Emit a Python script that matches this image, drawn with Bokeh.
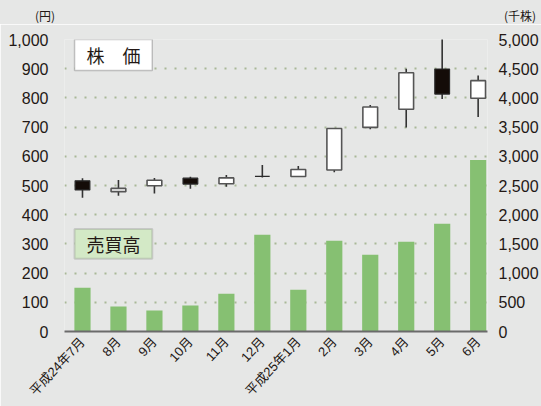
from bokeh.plotting import figure
from bokeh.layouts import column
from bokeh.models import (Range1d, LinearAxis, FixedTicker, BoxAnnotation, Label, Div,
                          ColumnDataSource, NumeralTickFormatter)
from bokeh.embed import file_html
from bokeh.resources import INLINE

# ---- data ----
months = ["平成24年7月", "8月", "9月", "10月", "11月", "12月",
          "平成25年1月", "2月", "3月", "4月", "5月", "6月"]
price_open = [516, 479, 499, 525, 506, 531, 531, 553, 699, 761, 899, 799]
price_close = [485, 490, 518, 505, 526, 531, 555, 695, 769, 886, 813, 859]
price_high = [525, 519, 526, 530, 536, 570, 567, 695, 776, 900, 1002, 877]
price_low = [458, 465, 473, 489, 496, 527, 531, 545, 693, 699, 796, 735]
volume = [750, 427, 358, 444, 648, 1655, 717, 1553, 1314, 1536, 1843, 2935]
price_ticks = list(range(0, 1001, 100))
volume_ticks = list(range(0, 5001, 500))
price_unit = "(円)"
volume_unit = "(千株)"

# ---- styles ----
BG = "#e6e7e6"
INK = "#231815"
BAR = "#86c072"
GRID = "#a9b897"
NUM_FONT = "Liberation Sans"
JP_FONT = "Noto Sans CJK JP"
MIX_FONT = "Liberation Sans, Noto Sans CJK JP"
HEAD_H = 24

xs = list(range(len(months)))

head = Div(
    text=(f'<div style="position:relative;width:541px;height:{HEAD_H}px;'
          f'font-family:\'Noto Sans CJK JP\';font-size:12px;color:{INK};line-height:12px">'
          f'<span style="position:absolute;right:486px;top:10px">{price_unit}</span>'
          f'<span style="position:absolute;left:504px;top:10px;white-space:nowrap">{volume_unit}</span>'
          f'</div>'),
    width=541, height=HEAD_H, margin=0,
    styles={"background-color": BG, "overflow": "hidden"})

p = figure(width=541, height=406 - HEAD_H, output_backend="svg", toolbar_location=None,
           x_range=Range1d(-0.5, 11.26), y_range=Range1d(0, 1000),
           min_border_left=64, min_border_top=39 - HEAD_H, min_border_bottom=74, min_border_right=10,
           background_fill_color=BG, border_fill_color=BG, outline_line_color=None, margin=0)
p.extra_y_ranges = {"vol": Range1d(0, 5000)}

# grid
p.xgrid.visible = False
p.ygrid.ticker = FixedTicker(ticks=price_ticks)
p.ygrid.grid_line_color = GRID
p.ygrid.grid_line_dash = "2 8"
p.ygrid.grid_line_width = 2

# left axis
la = p.yaxis[0]
la.ticker = FixedTicker(ticks=price_ticks)
la.formatter = NumeralTickFormatter(format="0,0")
la.axis_line_color = None
la.major_tick_line_color = None
la.minor_tick_line_color = None
la.major_label_standoff = 10
la.major_label_text_font = NUM_FONT
la.major_label_text_font_size = "16px"
la.major_label_text_color = INK

# right axis
ra = LinearAxis(y_range_name="vol", ticker=FixedTicker(ticks=volume_ticks),
                formatter=NumeralTickFormatter(format="0,0"))
ra.axis_line_color = None
ra.major_tick_line_color = None
ra.minor_tick_line_color = None
ra.major_label_standoff = 5
ra.major_label_text_font = NUM_FONT
ra.major_label_text_font_size = "16px"
ra.major_label_text_color = INK
p.add_layout(ra, "right")

# bottom axis
xa = p.xaxis[0]
xa.ticker = FixedTicker(ticks=xs)
xa.major_label_overrides = {i: m for i, m in enumerate(months)}
xa.major_label_orientation = 0.82
xa.major_label_standoff = 2
xa.major_label_text_font = MIX_FONT
xa.major_label_text_font_size = "13px"
xa.major_label_text_color = INK
xa.axis_line_color = "#6b6b6b"
xa.axis_line_width = 2
xa.major_tick_line_color = None
xa.minor_tick_line_color = None

# volume bars
p.vbar(x=xs, top=volume, bottom=0, width=0.45, y_range_name="vol",
       fill_color=BAR, line_color=None)

# candles
up = [c > o for o, c in zip(price_open, price_close)]
p.segment(x0=xs, y0=price_low, x1=xs, y1=price_high, line_color="#333333", line_width=1.6)
wsrc = ColumnDataSource(dict(
    x=[x for x, u in zip(xs, up) if u],
    top=[c for c, u in zip(price_close, up) if u],
    bottom=[o for o, u in zip(price_open, up) if u]))
bsrc = ColumnDataSource(dict(
    x=[x for x, u in zip(xs, up) if not u],
    top=[o for o, u in zip(price_open, up) if not u],
    bottom=[c for c, u in zip(price_close, up) if not u]))
p.vbar(x="x", top="top", bottom="bottom", width=0.41, source=wsrc,
       fill_color="white", line_color="#555555", line_width=1.6)
p.vbar(x="x", top="top", bottom="bottom", width=0.41, source=bsrc,
       fill_color="#140c08", line_color="#2a2a2a", line_width=1.2)

# title boxes
p.add_layout(BoxAnnotation(left=-0.22, right=1.94, top=1000, bottom=894,
                           fill_color="white", fill_alpha=1,
                           line_color="#4a4a4a", line_width=1.5))
p.add_layout(Label(x=0.86, y=947, text="株　価", text_align="center", text_baseline="middle",
                   text_font=JP_FONT, text_font_size="18px", text_color=INK))
p.add_layout(BoxAnnotation(left=-0.22, right=1.94, top=351, bottom=249,
                           fill_color="#d3e9c6", fill_alpha=1,
                           line_color="#808080", line_width=2))
p.add_layout(Label(x=0.86, y=300, text="売買高", text_align="center", text_baseline="middle",
                   text_font=JP_FONT, text_font_size="18px", text_color=INK))

layout = column(head, p, spacing=0, margin=0)
open("out.html", "w").write(file_html(layout, INLINE))
